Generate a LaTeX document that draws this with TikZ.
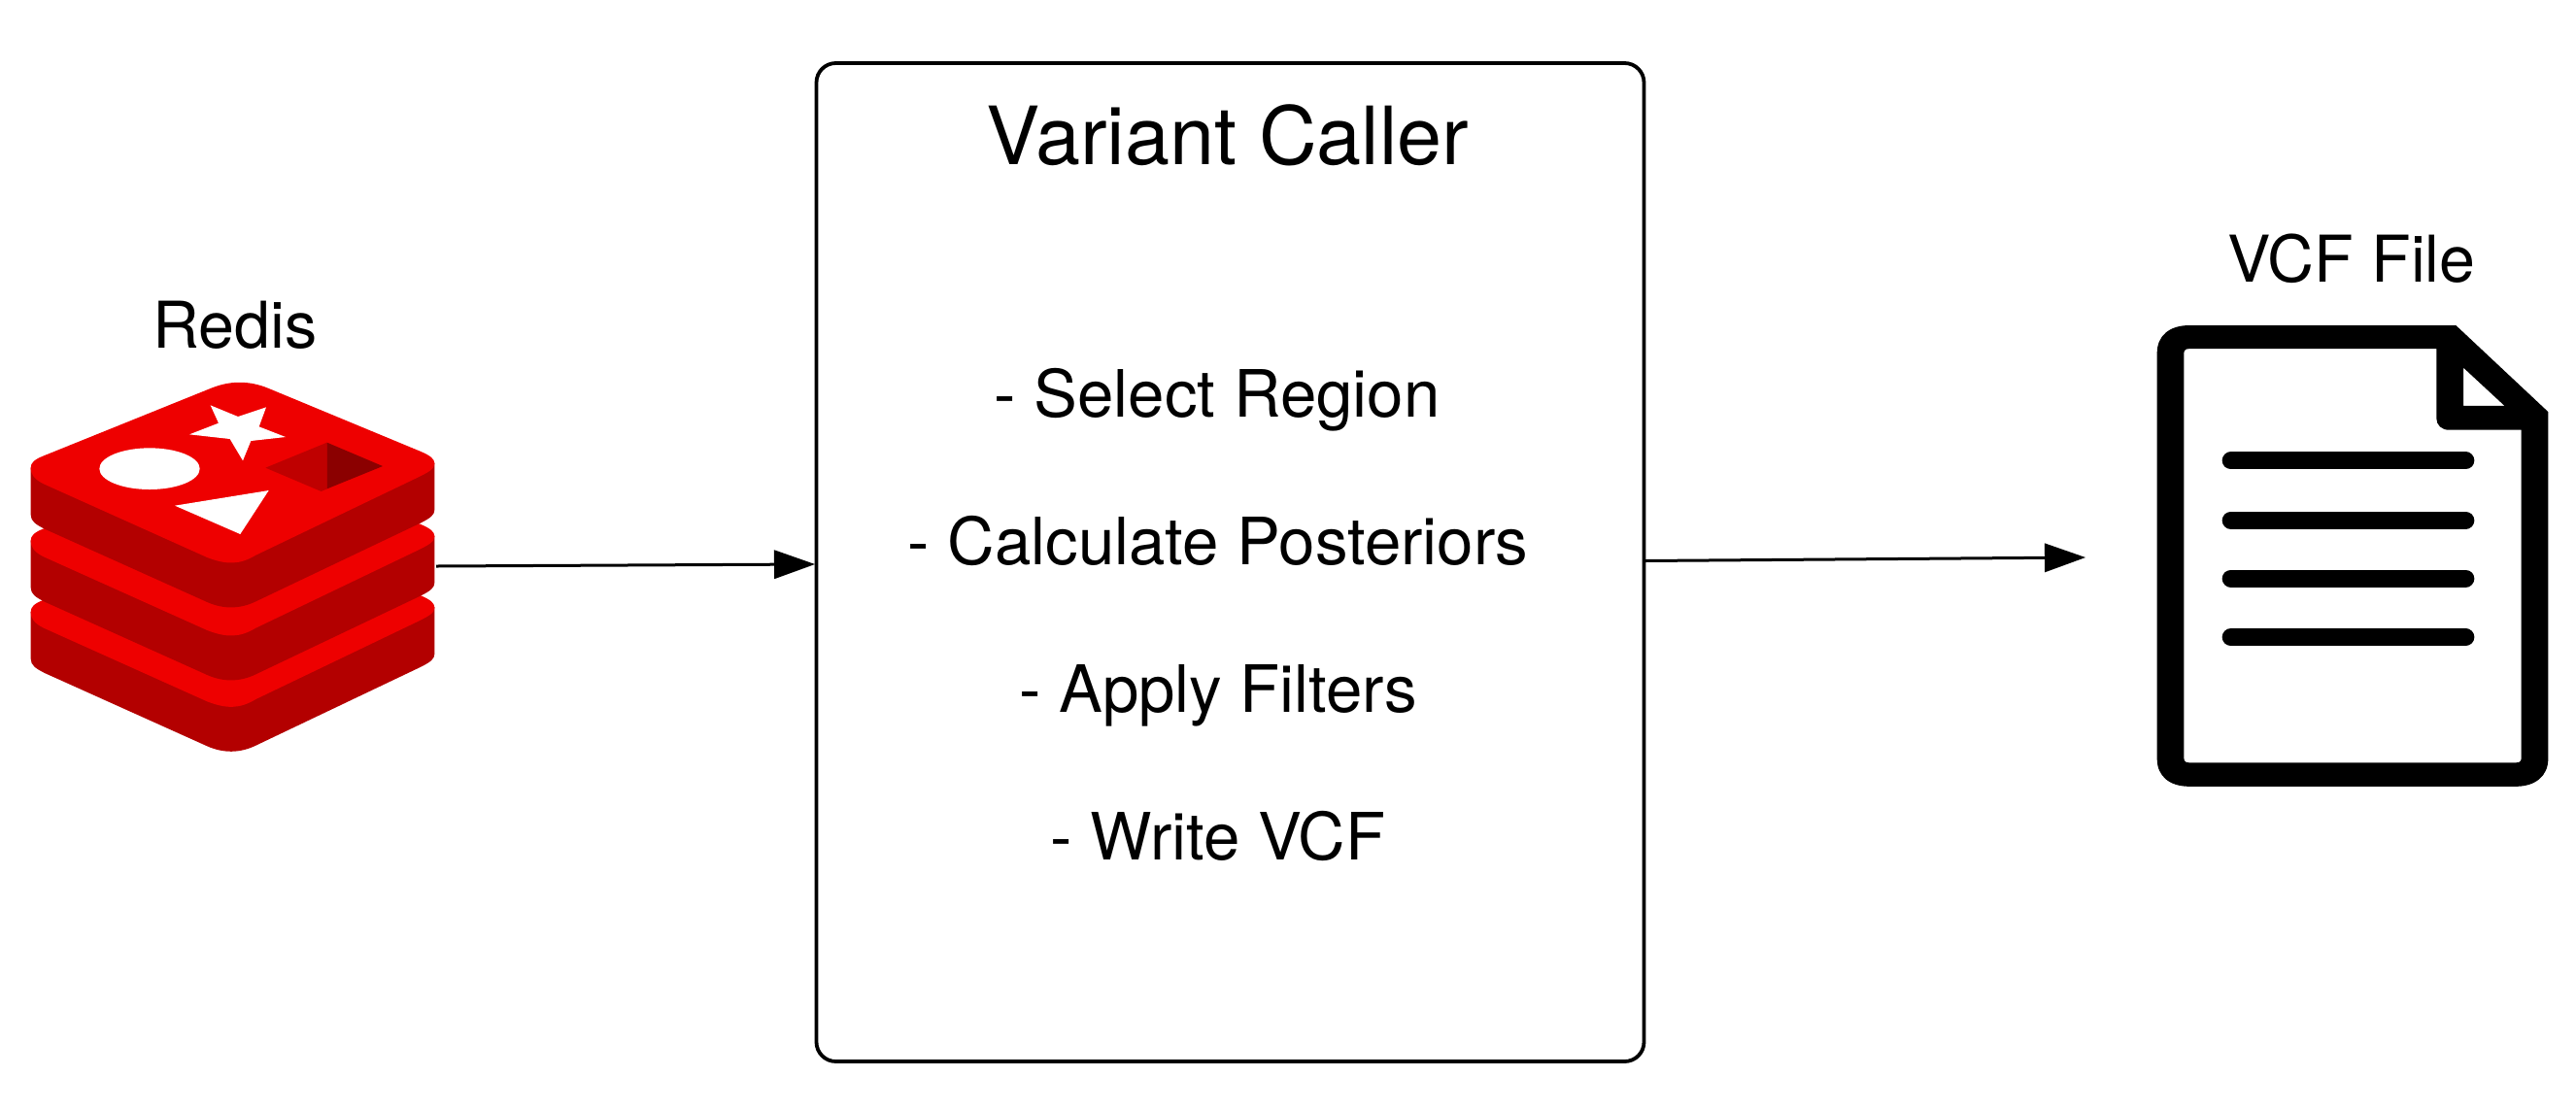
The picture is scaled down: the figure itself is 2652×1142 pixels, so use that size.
\documentclass[tikz,border=0pt]{standalone}
\usepackage{fontspec}
\setmainfont{TeX Gyre Heros}
\usetikzlibrary{arrows.meta}
\definecolor{rface}{HTML}{EE0000}
\definecolor{rside}{HTML}{B30000}
\definecolor{rdiaL}{HTML}{BF0000}
\definecolor{rdiaR}{HTML}{8B0000}
\tikzset{
  steplabel/.style={anchor=base,inner sep=0pt,font=\fontsize{33.6pt}{38pt}\selectfont},
  sidelabel/.style={anchor=base,inner sep=0pt,font=\fontsize{33.2pt}{38pt}\selectfont},
  titlelabel/.style={anchor=base,inner sep=0pt,font=\fontsize{41.4pt}{48pt}\selectfont},
  mainbox/.style={draw=black,line width=1.9pt,rounded corners=10pt,fill=white,inner sep=0pt},
  flow/.style={draw=black,line width=1.5pt,-{Triangle[length=21pt,width=15pt,line width=0pt]}},
  docline/.style={line width=9pt,line cap=round},
  logo/.style={shift={(0,280)},x=0.16667pt,y=-0.16667pt},
  docicon/.style={shift={(2180,219)},x=0.16667pt,y=-0.198pt}
}
\newcommand{\redislayer}[1]{%
  \begin{scope}[yshift=-#1*0.16667pt]
  \fill[rside] (95,605) -- (95,750) .. controls (95,770) and (110,780) .. (140,795)
     -- (640,1020) .. controls (690,1042) and (740,1042) .. (790,1018)
     -- (1300,775) .. controls (1330,760) and (1342,750) .. (1342,735) -- (1342,590) -- cycle;
  \fill[rface] (95,605) .. controls (95,590) and (105,580) .. (135,568)
     -- (650,360) .. controls (710,335) and (770,335) .. (830,360)
     -- (1300,555) .. controls (1330,568) and (1342,578) .. (1342,592)
     .. controls (1342,610) and (1320,620) .. (1290,635)
     -- (790,875) .. controls (740,905) and (700,905) .. (640,882)
     -- (135,655) .. controls (105,640) and (95,625) .. (95,605) -- cycle;
  \end{scope}}
\begin{document}
\begin{tikzpicture}[x=0.5pt,y=-0.5pt]
\useasboundingbox (0,0) rectangle (2652,1142);
% logo
\begin{scope}[logo]
  \redislayer{445}
  \redislayer{225}
  \redislayer{0}
  \fill[white] (650,412) -- (735,447) -- (822,418) -- (800,478) -- (882,510) -- (775,522) -- (750,583) -- (710,516) -- (585,502) -- (675,467) -- cycle;
  \fill[white] (462,608) ellipse [x radius=155,y radius=64];
  \fill[white] (540,722) -- (830,675) -- (742,810) -- cycle;
  \fill[rdiaL] (820,605) -- (1010,527) -- (1010,670) -- (992,678) -- cycle;
  \fill[rdiaR] (1010,527) -- (1182,600) -- (1010,670) -- cycle;
\end{scope}
\node[sidelabel] (redislabel) at (242,358) {Redis};
% box
\node[mainbox,minimum width=426pt,minimum height=514pt] (box) at (1266.5,579) {};
\node[titlelabel] (title) at (1264,169) {Variant Caller};
\node[steplabel] (s1) at (1253,429) {- Select Region};
\node[steplabel] (s2) at (1254,581) {- Calculate Posteriors};
\node[steplabel] (s3) at (1254,733) {- Apply Filters};
\node[steplabel] (s4) at (1254,885) {- Write VCF};
% file icon
\begin{scope}[docicon]
  \fill[black,even odd rule]
    (222,293) -- (1045,293) -- (1330,518) -- (1330,1420)
    .. controls (1330,1465) and (1290,1492) .. (1230,1492) -- (222,1492)
    .. controls (160,1492) and (122,1465) .. (122,1420) -- (122,365)
    .. controls (122,320) and (160,293) .. (222,293) -- cycle
    (220,354) .. controls (210,354) and (205,358) .. (205,366) -- (205,1418)
    .. controls (205,1426) and (210,1430) .. (220,1430) -- (1232,1430)
    .. controls (1242,1430) and (1247,1426) .. (1247,1418) -- (1247,565)
    -- (1025,565) .. controls (1000,565) and (985,552) .. (985,535) -- (985,354) -- cycle
    (1068,403) -- (1068,502) -- (1195,502) -- cycle;
  \draw[docline] (350,645) -- (1075,645);
  \draw[docline] (350,800) -- (1075,800);
  \draw[docline] (350,951) -- (1075,951);
  \draw[docline] (350,1104) -- (1075,1104);
\end{scope}
\node[sidelabel] (filelabel) at (2421,290) {VCF File};
% connectors
\coordinate (redisout) at (449,583);
\coordinate (boxin) at (839,581);
\coordinate (boxout) at (1693,577.5);
\coordinate (fileend) at (2147,574);
\draw[flow] (redisout) -- (boxin);
\draw[flow] (boxout) -- (fileend);
\end{tikzpicture}
\end{document}
